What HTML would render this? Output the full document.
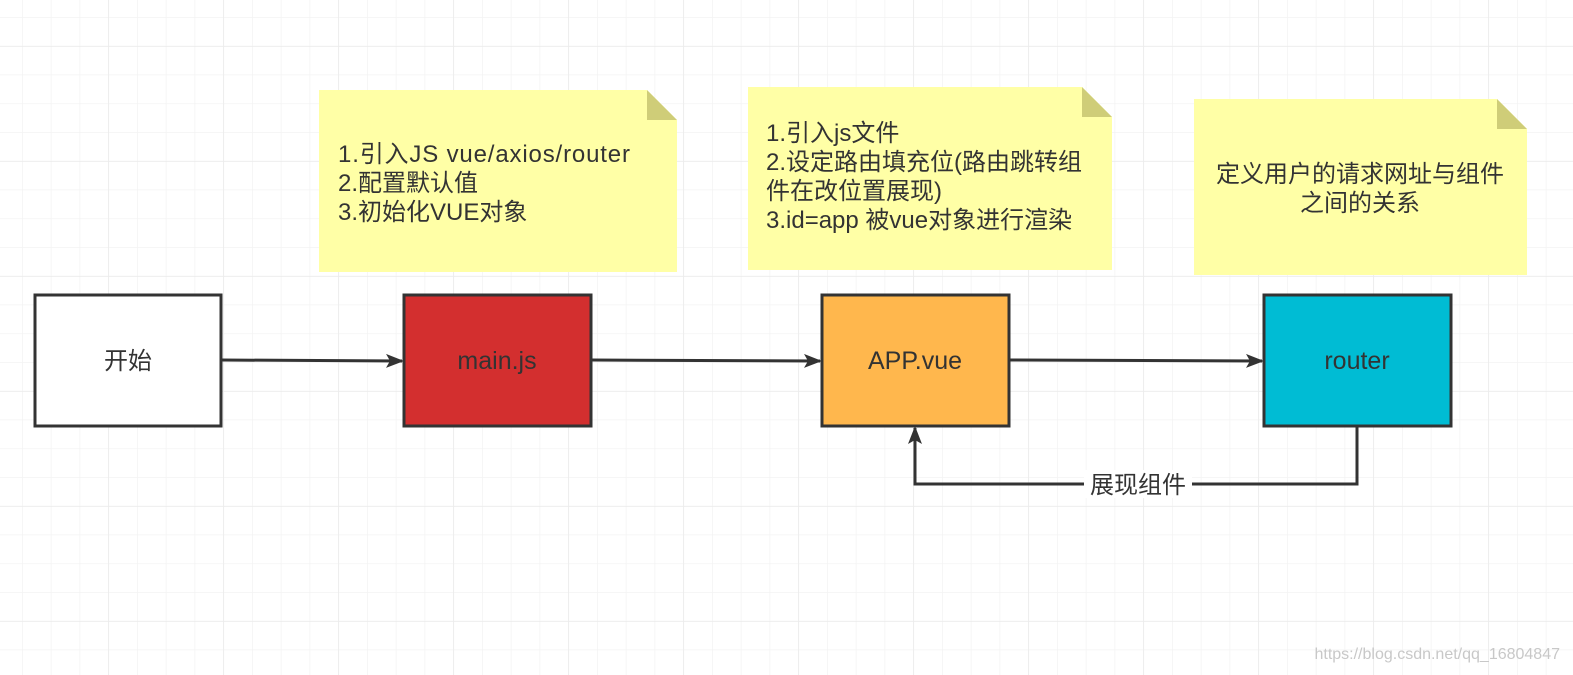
<!DOCTYPE html>
<html><head><meta charset="utf-8"><style>
body{margin:0;width:1573px;height:675px;overflow:hidden;background:#fff;font-family:"Liberation Sans","Noto Sans CJK SC",sans-serif;}
</style></head><body>
<svg width="1573" height="675" xmlns="http://www.w3.org/2000/svg" style="position:absolute;left:0;top:0">
<defs>
<pattern id="g" x="22" y="17" width="28.75" height="28.75" patternUnits="userSpaceOnUse">
<path d="M0 0H28.75M0 0V28.75" stroke="#f3f3f3" stroke-width="1.5" fill="none"/>
</pattern>
<pattern id="G" x="108" y="46" width="115" height="115" patternUnits="userSpaceOnUse">
<path d="M0 0H115M0 0V115" stroke="#ebebeb" stroke-width="1.5" fill="none"/>
</pattern>
<marker id="a" markerWidth="18" markerHeight="14" refX="16" refY="7" orient="auto" markerUnits="userSpaceOnUse">
<path d="M0 0L18 7L0 14L4 7Z" fill="#333"/>
</marker>
</defs>
<rect width="1573" height="675" fill="url(#g)"/>
<rect width="1573" height="675" fill="url(#G)"/>
<g fill="#ffffa6">
<path d="M319 90H647L677 120V272H319Z"/>
<path d="M748 87H1082L1112 117V270H748Z"/>
<path d="M1194 99H1497L1527 129V275H1194Z"/>
</g>
<g fill="#cfcd78">
<path d="M647 90L677 120H647Z"/>
<path d="M1082 87L1112 117H1082Z"/>
<path d="M1497 99L1527 129H1497Z"/>
</g>
<g font-size="24" fill="#333">
<text x="338" y="162" textLength="292">1.引入JS vue/axios/router</text>
<text x="338" y="191">2.配置默认值</text>
<text x="338" y="220">3.初始化VUE对象</text>
<text x="766" y="141">1.引入js文件</text>
<text x="766" y="170">2.设定路由填充位(路由跳转组</text>
<text x="766" y="199">件在改位置展现)</text>
<text x="766" y="228">3.id=app 被vue对象进行渲染</text>
<text x="1360" y="182" text-anchor="middle">定义用户的请求网址与组件</text>
<text x="1360" y="211" text-anchor="middle">之间的关系</text>
</g>
<g stroke="#333" stroke-width="3">
<rect x="35" y="295" width="186" height="131" fill="#fff"/>
<rect x="404" y="295" width="187" height="131" fill="#d32f2f"/>
<rect x="822" y="295" width="187" height="131" fill="#ffb74d"/>
<rect x="1264" y="295" width="187" height="131" fill="#00bcd4"/>
</g>
<g stroke="#333" stroke-width="3" fill="none" marker-end="url(#a)">
<path d="M221 360L402 361"/>
<path d="M591 360L820 361"/>
<path d="M1009 360L1262 361"/>
<path d="M1357 426V484H915V428"/>
</g>
<rect x="1084" y="470" width="108" height="28" fill="#fff"/>
<g font-size="24" fill="#333" text-anchor="middle">
<text x="128" y="369">开始</text>
<text x="497" y="369" font-size="25">main.js</text>
<text x="915" y="369" font-size="25">APP.vue</text>
<text x="1357" y="369" font-size="25">router</text>
<text x="1138" y="493">展现组件</text>
</g>
<text x="1560" y="659" font-size="16" fill="#c8c8c8" text-anchor="end">https://blog.csdn.net/qq_16804847</text>
</svg>
</body></html>
